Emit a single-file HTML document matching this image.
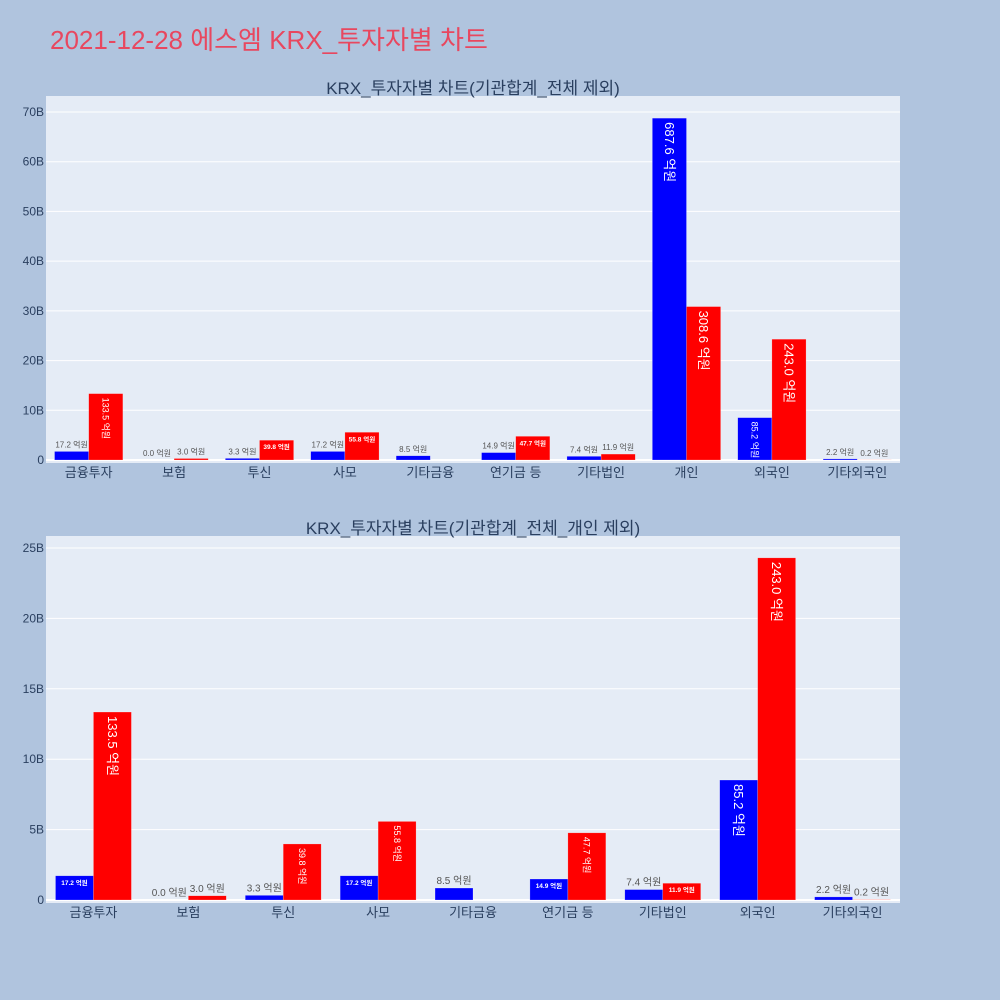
<!DOCTYPE html>
<html><head><meta charset="utf-8">
<style>
html,body{margin:0;padding:0;background:#b0c4de;}
svg{display:block;font-family:"Liberation Sans","Noto Sans CJK KR",sans-serif;}
</style></head>
<body>
<svg id="chart" width="1000" height="1000" xmlns="http://www.w3.org/2000/svg">
<rect x="0" y="0" width="1000" height="1000" fill="#b0c4de"/>
<text x="50" y="49" font-size="26" fill="#e8475f">2021-12-28 에스엠 KRX_투자자별 차트</text>
</svg>
<script>
const categoriesTop = ["금융투자","보험","투신","사모","기타금융","연기금 등","기타법인","개인","외국인","기타외국인"];
const blueTop = [17.2, 0.0, 3.3, 17.2, 8.5, 14.9, 7.4, 687.6, 85.2, 2.2];
const redTop = [133.5, 3.0, 39.8, 55.8, null, 47.7, 11.9, 308.6, 243.0, 0.2];
const ticksTop = [0,10,20,30,40,50,60,70];
const tickLabelsTop = ["0","10B","20B","30B","40B","50B","60B","70B"];
const categoriesBot = ["금융투자","보험","투신","사모","기타금융","연기금 등","기타법인","외국인","기타외국인"];
const blueBot = [17.2, 0.0, 3.3, 17.2, 8.5, 14.9, 7.4, 85.2, 2.2];
const redBot = [133.5, 3.0, 39.8, 55.8, null, 47.7, 11.9, 243.0, 0.2];
const ticksBot = [0,5,10,15,20,25];
const tickLabelsBot = ["0","5B","10B","15B","20B","25B"];

const NS="http://www.w3.org/2000/svg";
const svg=document.getElementById('chart');
function mk(tag,attrs,parent){const e=document.createElementNS(NS,tag);for(const k in attrs)e.setAttribute(k,attrs[k]);(parent||svg).appendChild(e);return e;}

function drawPanel(p){
  const g=mk('g',{});
  
  
  const bg=mk('rect',{x:p.x0,y:p.y0,width:p.x1-p.x0,height:p.y1-p.y0,fill:'#e5ecf6'},g);
  
  
  const t=mk('text',{x:473,y:p.y0-2,'font-size':17,fill:'#2a3f5f','text-anchor':'middle'},g);
  t.textContent=p.title;
  
  
  const yS=v=>p.zeroY-(v/p.maxTick)*(p.zeroY-p.topY);
  p.ticks.forEach((v,i)=>{
    const y=yS(v);
    const gl=mk('line',{x1:p.x0,x2:p.x1,y1:y,y2:y,stroke:'#fff','stroke-width':v===0?2:1},g);
    
    
    const tl=mk('text',{x:p.x0-2,y:y+4,'font-size':12,fill:'#2a3f5f','text-anchor':'end'},g);
    tl.textContent=p.tickLabels[i];
    
    
  });
  const n=p.cats.length, cw=(p.x1-p.x0)/n, bw=cw*0.4;
  p.cats.forEach((c,i)=>{
    const cx=p.x0+cw*(i+0.5);
    const xl=mk('text',{x:cx,y:p.y1+14,'font-size':13,fill:'#2a3f5f','text-anchor':'middle'},g);
    xl.textContent=c;
    
    
    [[p.blue[i],'#0000ff',cx-bw],[p.red[i],'#ff0000',cx]].forEach(([v,col,bx],k)=>{
      if(v===null)return;
      const yv=yS(v*1e8/1e9), h=p.zeroY-yv;
      const r=mk('rect',{x:bx,y:yv,width:bw,height:Math.max(h,0),fill:col,stroke:'rgba(255,255,255,0.4)','stroke-width':0.5},g);
      
      
      const lab=v.toFixed(1)+' 억원';
      const bxc=bx+bw/2;
      let tx;
      if(h>40){
        const fs=h>80?13:9;
        tx=mk('text',{x:0,y:0,'font-size':fs,fill:'#fff',transform:`translate(${bxc-fs*0.35},${yv+4}) rotate(90)`},g);
      }else if(h>=13){
        tx=mk('text',{x:bxc,y:yv+9,'font-size':6.5,'font-weight':'bold',fill:'#fff','text-anchor':'middle'},g);
      }else{
        tx=mk('text',{x:bxc,y:yv-4,'font-size':p.small,fill:'#555','text-anchor':'middle'},g);
      }
      tx.textContent=lab;
      
      
    });
  });
}
drawPanel({name:'top-panel',title:'KRX_투자자별 차트(기관합계_전체 제외)',x0:46,x1:900,y0:96,y1:463,zeroY:460,topY:112,maxTick:70,ticks:ticksTop,tickLabels:tickLabelsTop,cats:categoriesTop,blue:blueTop,red:redTop,small:8});
drawPanel({name:'bottom-panel',title:'KRX_투자자별 차트(기관합계_전체_개인 제외)',x0:46,x1:900,y0:536,y1:903,zeroY:900,topY:548,maxTick:25,ticks:ticksBot,tickLabels:tickLabelsBot,cats:categoriesBot,blue:blueBot,red:redBot,small:10});
</script>
</body></html>
